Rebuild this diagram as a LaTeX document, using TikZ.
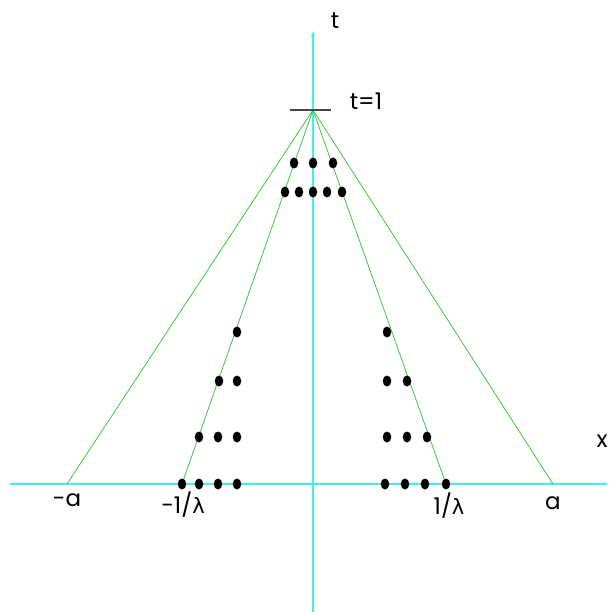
\documentclass[tikz,border=0pt]{standalone}
\usepackage{fontspec}
\setmainfont{Poppins}
\newfontfamily\grk{DejaVu Sans}
\usetikzlibrary{arrows.meta,shapes.geometric}
\begin{document}
\begin{tikzpicture}[x=1pt,y=-1pt,
  axis/.style={draw={rgb,255:red,64;green,240;blue,240},line width=1.4pt},
  ray/.style={draw={rgb,255:red,60;green,200;blue,60},line width=0.8pt},
  dot/.style={ellipse,fill=black,minimum width=8.5pt,minimum height=11pt,inner sep=0pt},
  lab/.style={font=\fontsize{23}{23}\selectfont,inner sep=0pt}]
\useasboundingbox (0,0) rectangle (608,612);
% axes
\coordinate (xl) at (10,484);
\coordinate (xr) at (608,484);
\coordinate (tbot) at (313,612);
\coordinate (ttop) at (313,31);
\draw[axis,-{Stealth[length=5pt,width=4pt]}] (xl) -- (xr);
\draw[axis,-{Stealth[length=6pt,width=4pt]}] (tbot) -- (ttop);
% apex and rays
\coordinate (apex) at (313,110);
\coordinate (ma) at (67,484);
\coordinate (pa) at (553,484);
\coordinate (ml) at (182,484);
\coordinate (pl) at (446,484);
\draw[ray] (apex) -- (ma);
\draw[ray] (apex) -- (pa);
\draw[ray] (apex) -- (ml);
\draw[ray] (apex) -- (pl);
% tick t=1
\coordinate (tk1) at (290,110);
\coordinate (tk2) at (331,110);
\draw[line width=1.2pt,draw={rgb,255:red,70;green,70;blue,70}] (tk1) -- (tk2);
% labels
\node[lab] (lt) at (335,21) {t};
\node[lab] (lt1) at (366,101) {t=1};
\node[lab] (lx) at (602,441) {x};
\node[lab] (lma) at (67,500) {-a};
\node[lab] (lml) at (183,505) {-1/{\grk\fontsize{21}{21}\selectfont λ}};
\node[lab] (lpl) at (449,506) {1/{\grk\fontsize{21}{21}\selectfont λ}};
\node[lab] (lpa) at (553,503) {a};
% dots left
\foreach \x [count=\i] in {182,199,218,237} \node[dot] (lb\i) at (\x,484) {};
\foreach \x [count=\i] in {199,218,237} \node[dot] (lc\i) at (\x,437) {};
\foreach \x [count=\i] in {219,237} \node[dot] (ld\i) at (\x,381) {};
\node[dot] (le1) at (237,332) {};
% dots right
\foreach \x [count=\i] in {385,405,425,446} \node[dot] (rb\i) at (\x,484) {};
\foreach \x [count=\i] in {387,407,427} \node[dot] (rc\i) at (\x,437) {};
\foreach \x [count=\i] in {387,407} \node[dot] (rd\i) at (\x,381) {};
\node[dot] (re1) at (387,332) {};
% dots top
\foreach \x [count=\i] in {294,313,333} \node[dot] (ta\i) at (\x,163) {};
\foreach \x [count=\i] in {285,299,313,327,342} \node[dot] (tr\i) at (\x,192) {};
\end{tikzpicture}
\end{document}
